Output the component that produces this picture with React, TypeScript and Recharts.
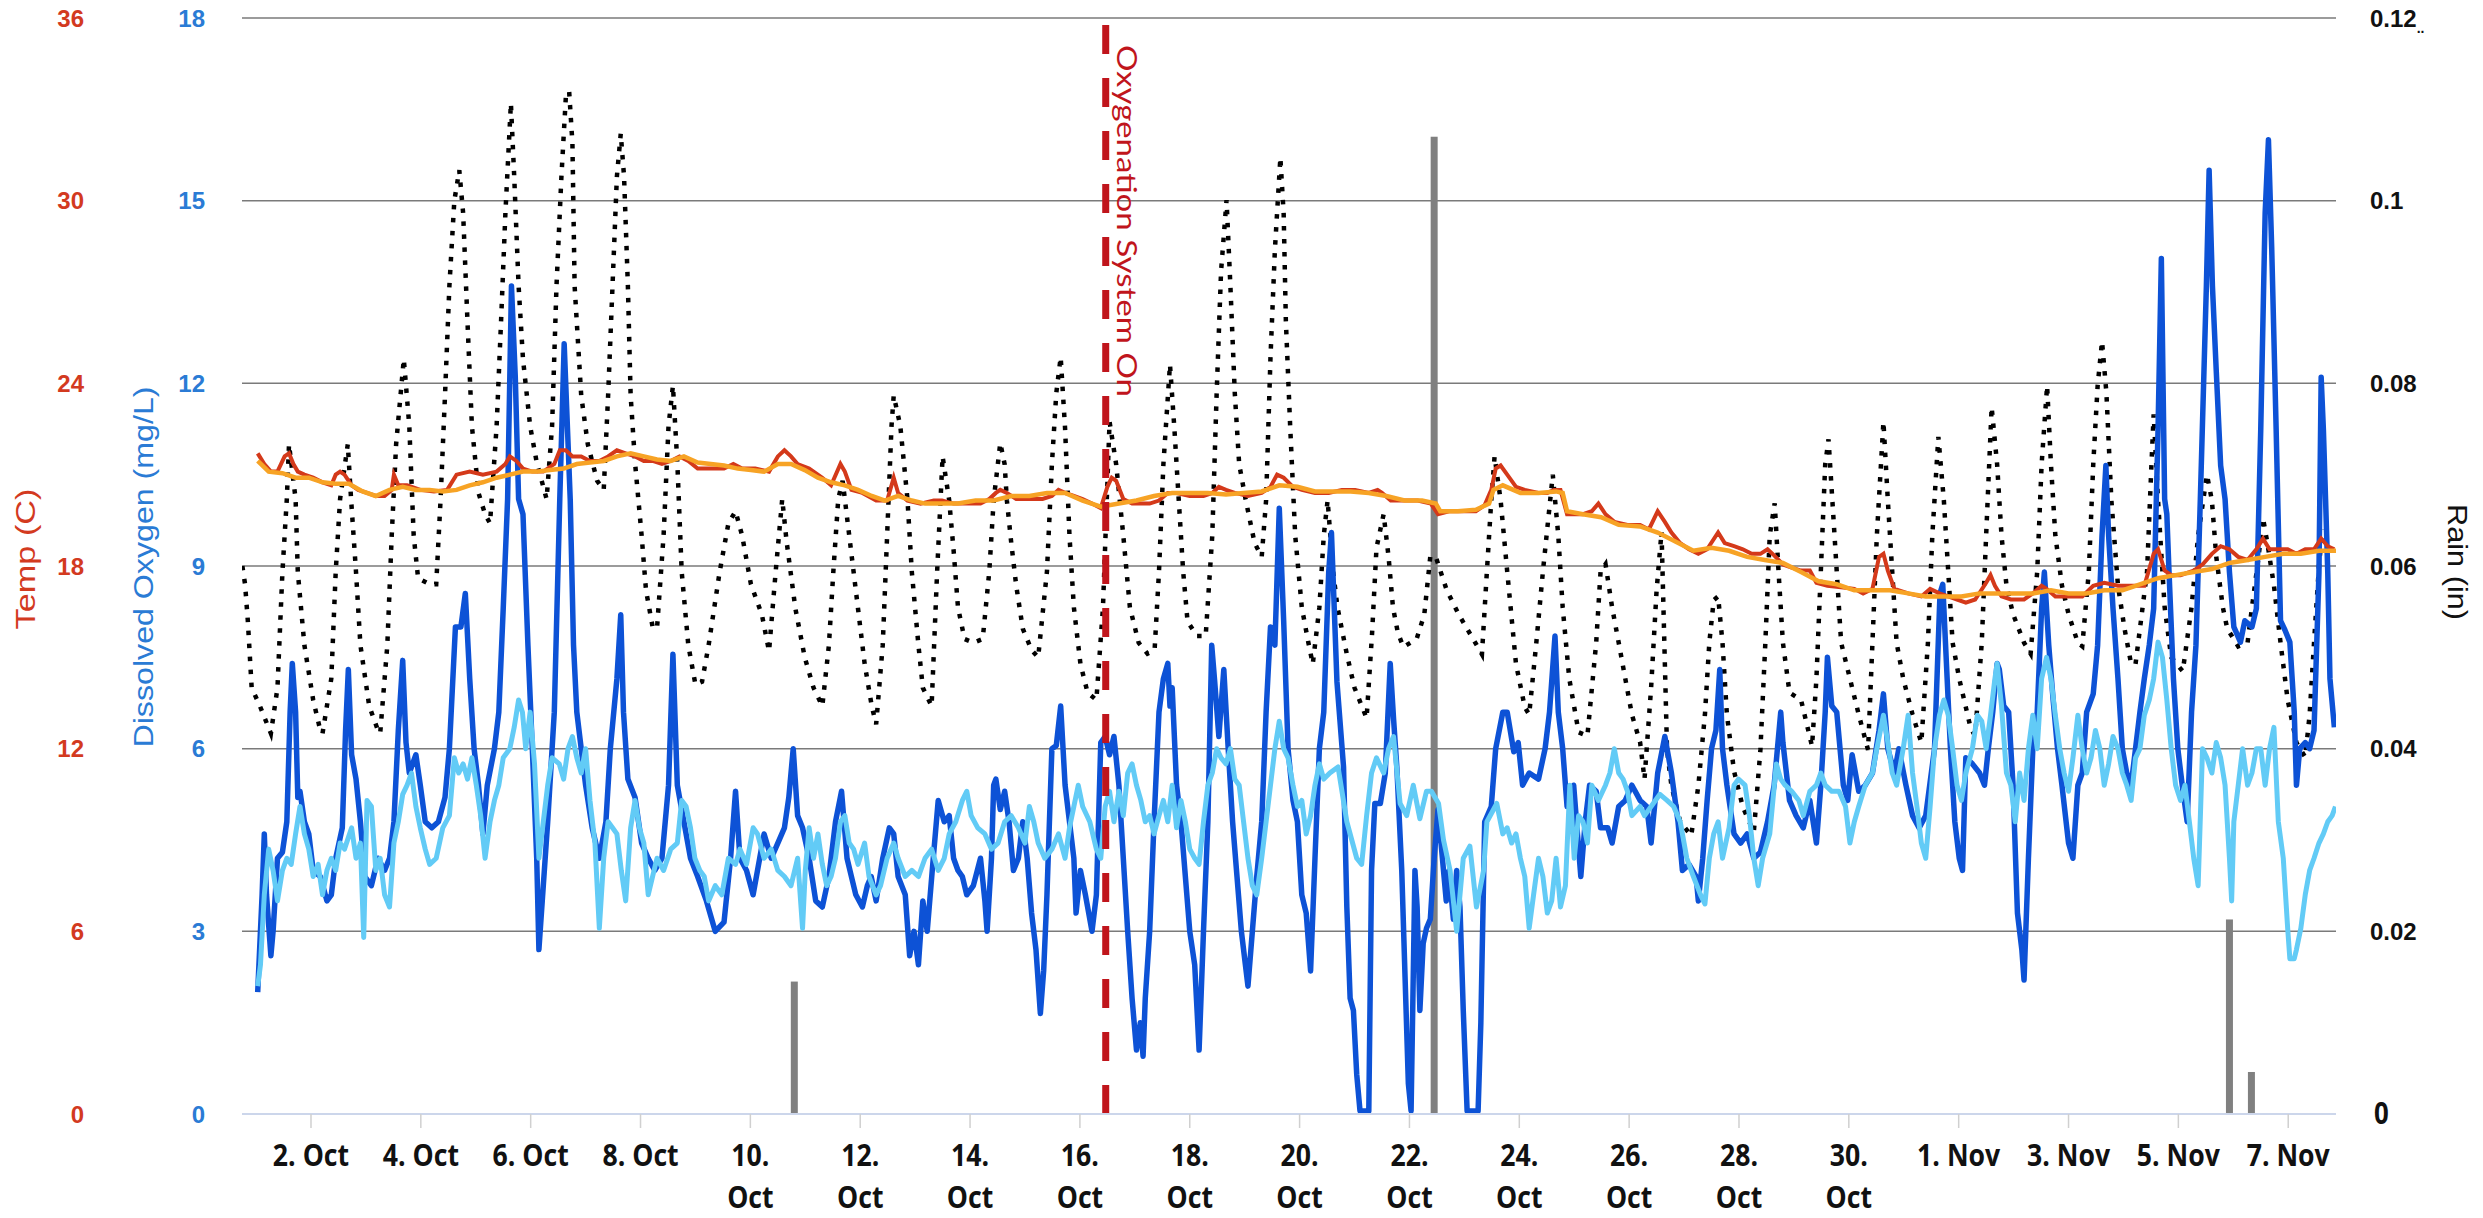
import React from "react";
import {
  Bar,
  CartesianGrid,
  ComposedChart,
  Line,
  ReferenceLine,
  XAxis,
  YAxis,
} from "recharts";

// time axis: day number counted from 1 Oct 00:00 = 1.0 (so 1 Nov = 32)
const xTicks = [2, 4, 6, 8, 10, 12, 14, 16, 18, 20, 22, 24, 26, 28, 30, 32, 34, 36, 38];
const xTickLabels = [
  "2. Oct", "4. Oct", "6. Oct", "8. Oct",
  "10.\nOct", "12.\nOct", "14.\nOct", "16.\nOct", "18.\nOct", "20.\nOct",
  "22.\nOct", "24.\nOct", "26.\nOct", "28.\nOct", "30.\nOct",
  "1. Nov", "3. Nov", "5. Nov", "7. Nov",
];
const doTicks = [0, 3, 6, 9, 12, 15, 18];
const tempTicks = [0, 6, 12, 18, 24, 30, 36];
const rainTicks = [0, 0.02, 0.04, 0.06, 0.08, 0.1, 0.12];
const rainTickLabels = ["0", "0.02", "0.04", "0.06", "0.08", "0.1", "0.12"];

const oxygenationStart = 16.47;

// rain (in)
const rain: [number, number][] = [
  [10.8, 0.0145], [22.45, 0.107], [36.93, 0.0213], [37.33, 0.0046],
];

// dotted black DO series (mg/L)
const doDotted: [number, number][] = [
  [0.75, 9.0], [0.8, 8.7], [0.85, 8.1], [0.92, 7.0], [1.07, 6.7], [1.27, 6.25], [1.39, 7.0], [1.48, 8.9],
  [1.56, 10.1], [1.6, 11.0], [1.72, 10.1], [1.76, 8.9], [1.88, 7.7], [2.04, 6.8], [2.17, 6.3], [2.21, 6.25],
  [2.37, 7.15], [2.45, 8.9], [2.53, 10.1], [2.67, 11.0], [2.73, 10.1], [2.82, 8.9], [2.9, 7.7], [3.06, 6.7],
  [3.22, 6.3], [3.26, 6.25], [3.39, 7.7], [3.47, 9.5], [3.55, 11.0], [3.69, 12.4], [3.79, 11.3], [3.87, 9.5],
  [3.95, 8.8], [4.16, 8.7], [4.24, 8.7], [4.28, 8.7], [4.36, 10.1], [4.44, 11.8], [4.52, 13.6], [4.61, 15.0],
  [4.7, 15.5], [4.77, 14.8], [4.85, 13.0], [4.93, 11.3], [5.05, 10.2], [5.17, 9.85], [5.26, 9.7], [5.38, 11.3],
  [5.46, 13.0], [5.54, 14.8], [5.64, 16.6], [5.7, 15.4], [5.78, 13.6], [5.86, 12.4], [5.99, 11.3], [6.11, 10.7],
  [6.29, 10.1], [6.39, 11.3], [6.47, 13.6], [6.56, 15.4], [6.64, 16.7], [6.7, 16.8], [6.76, 15.95], [6.8, 13.6],
  [6.92, 11.8], [7.04, 11.0], [7.21, 10.4], [7.33, 10.25], [7.41, 11.8], [7.49, 13.6], [7.57, 15.4], [7.64, 16.1],
  [7.7, 15.4], [7.77, 13.6], [7.82, 11.8], [7.9, 10.7], [8.02, 9.5], [8.1, 8.6], [8.22, 8.0], [8.3, 7.97],
  [8.42, 9.5], [8.51, 11.3], [8.59, 11.96], [8.67, 10.7], [8.75, 8.9], [8.87, 7.7], [9.0, 7.05], [9.12, 7.1],
  [9.24, 7.7], [9.44, 8.9], [9.6, 9.7], [9.73, 9.9], [9.85, 9.5], [10.01, 8.7], [10.21, 8.2], [10.34, 7.6],
  [10.46, 8.9], [10.58, 10.1], [10.66, 9.4], [10.82, 8.3], [10.99, 7.5], [11.15, 7.0], [11.31, 6.7], [11.43, 7.7],
  [11.51, 8.9], [11.6, 10.1], [11.68, 10.4], [11.8, 9.5], [11.96, 8.3], [12.08, 7.4], [12.21, 6.7], [12.29, 6.4],
  [12.41, 7.7], [12.49, 9.5], [12.57, 11.3], [12.61, 11.8], [12.73, 11.3], [12.86, 10.1], [12.94, 8.9], [13.06, 7.7],
  [13.14, 7.0], [13.3, 6.7], [13.4, 8.9], [13.5, 10.8], [13.62, 10.08], [13.7, 9.26], [13.78, 8.32], [13.9, 7.8],
  [14.06, 7.74], [14.23, 7.8], [14.35, 8.91], [14.43, 10.08], [14.55, 11.02], [14.63, 10.67], [14.67, 10.08], [14.75, 9.38],
  [14.84, 8.68], [14.96, 7.97], [15.12, 7.62], [15.24, 7.5], [15.4, 8.91], [15.49, 10.67], [15.57, 11.84], [15.65, 12.43],
  [15.73, 11.26], [15.81, 9.5], [15.89, 8.32], [16.01, 7.39], [16.14, 6.92], [16.3, 6.8], [16.42, 8.32], [16.54, 11.37],
  [16.66, 10.67], [16.79, 9.5], [16.91, 8.32], [17.07, 7.74], [17.23, 7.56], [17.36, 7.62], [17.44, 8.91], [17.52, 10.67],
  [17.64, 12.31], [17.72, 11.26], [17.8, 10.08], [17.88, 8.91], [17.96, 8.09], [18.13, 7.85], [18.29, 7.85], [18.41, 9.5],
  [18.49, 11.84], [18.57, 13.84], [18.67, 15.01], [18.74, 13.6], [18.82, 11.84], [18.9, 10.67], [19.02, 10.08], [19.18, 9.38],
  [19.31, 9.15], [19.39, 10.08], [19.47, 12.43], [19.55, 14.19], [19.65, 15.71], [19.71, 14.78], [19.75, 13.02], [19.83, 11.26],
  [19.92, 9.5], [20.04, 8.32], [20.16, 7.74], [20.24, 7.39], [20.36, 8.32], [20.44, 9.5], [20.51, 10.08], [20.61, 8.91],
  [20.69, 8.32], [20.86, 7.55], [21.0, 7.0], [21.22, 6.5], [21.32, 7.9], [21.4, 9.3], [21.53, 9.85], [21.62, 9.15],
  [21.7, 8.32], [21.79, 7.9], [21.89, 7.67], [22.13, 7.8], [22.27, 8.2], [22.38, 9.16], [22.48, 9.15], [22.68, 8.6],
  [22.9, 8.2], [23.16, 7.8], [23.32, 7.55], [23.41, 8.91], [23.49, 10.08], [23.55, 10.8], [23.66, 10.08],
  [23.78, 8.91], [23.94, 7.39], [24.1, 6.68], [24.18, 6.56], [24.31, 7.74], [24.43, 8.91], [24.61, 10.5], [24.71, 9.5],
  [24.79, 8.32], [24.91, 7.15], [25.08, 6.27], [25.24, 6.21], [25.4, 7.74], [25.48, 8.91], [25.57, 9.03], [25.69, 8.32],
  [25.81, 7.74], [25.93, 7.15], [26.05, 6.56], [26.2, 6.1], [26.28, 5.5], [26.4, 7.0], [26.5, 8.6], [26.59, 9.56],
  [26.69, 5.98], [26.77, 5.39], [26.93, 4.8], [27.13, 4.57], [27.26, 5.39], [27.38, 6.56], [27.46, 7.74], [27.54, 8.44],
  [27.62, 8.5], [27.7, 7.74], [27.78, 6.56], [27.91, 5.63], [28.07, 5.04], [28.27, 4.63], [28.39, 5.98], [28.48, 7.74],
  [28.56, 9.5], [28.65, 10.03], [28.72, 8.91], [28.8, 7.74], [28.92, 6.92], [29.13, 6.8], [29.33, 6.04], [29.41, 7.15],
  [29.49, 8.91], [29.57, 10.67], [29.63, 11.08], [29.7, 10.08], [29.78, 8.91], [29.86, 7.74], [30.02, 7.15], [30.18, 6.56],
  [30.35, 5.98], [30.43, 7.74], [30.51, 9.5], [30.63, 11.37], [30.71, 10.08], [30.79, 8.91], [30.87, 7.74], [30.99, 7.15],
  [31.16, 6.56], [31.32, 6.1], [31.44, 7.74], [31.52, 9.5], [31.63, 11.12], [31.73, 10.08], [31.81, 8.91], [31.89, 7.74],
  [32.01, 7.15], [32.22, 6.33], [32.3, 6.21], [32.42, 7.74], [32.5, 9.5], [32.6, 11.61], [32.7, 10.67], [32.78, 9.5],
  [32.87, 8.68], [32.99, 8.21], [33.19, 7.74], [33.31, 7.56], [33.43, 8.91], [33.51, 10.67], [33.61, 11.96], [33.68, 10.67],
  [33.76, 9.5], [33.88, 8.68], [34.0, 8.21], [34.17, 7.74], [34.25, 7.68], [34.37, 8.91], [34.45, 10.67], [34.53, 11.96],
  [34.61, 12.69], [34.69, 11.84], [34.78, 10.08], [34.9, 8.68], [35.02, 7.97], [35.14, 7.39], [35.22, 7.39], [35.43, 8.91],
  [35.51, 10.67], [35.55, 11.49], [35.63, 10.08], [35.75, 8.32], [35.87, 7.5], [36.08, 7.27], [36.24, 8.32], [36.36, 9.5],
  [36.52, 10.5], [36.61, 10.08], [36.69, 9.15], [36.81, 8.32], [36.89, 7.97], [37.09, 7.68], [37.26, 7.74], [37.34, 8.32],
  [37.46, 9.15], [37.54, 9.79], [37.62, 9.38], [37.74, 8.68], [37.86, 7.74], [37.99, 6.8], [38.15, 6.1], [38.31, 5.86],
  [38.39, 6.56], [38.47, 7.74], [38.56, 9.0], [38.62, 9.6],
];

// dark blue DO series (mg/L)
const doDeep: [number, number][] = [
  [1.03, 2.0], [1.11, 3.6], [1.15, 4.6], [1.19, 3.6], [1.27, 2.6], [1.31, 3.0], [1.39, 4.2], [1.48, 4.3],
  [1.56, 4.8], [1.62, 6.6], [1.66, 7.4], [1.72, 6.6], [1.76, 5.2], [1.8, 5.3], [1.88, 4.8], [1.96, 4.6],
  [2.04, 4.0], [2.17, 3.9], [2.29, 3.5], [2.37, 3.6], [2.45, 4.2], [2.57, 4.7], [2.63, 6.3], [2.68, 7.3],
  [2.74, 5.9], [2.82, 5.5], [2.9, 4.8], [2.98, 3.9], [3.1, 3.75], [3.22, 4.2], [3.34, 4.0], [3.43, 4.2],
  [3.51, 4.8], [3.59, 6.3], [3.67, 7.45], [3.73, 6.1], [3.79, 5.6], [3.91, 5.9], [3.99, 5.4], [4.08, 4.8],
  [4.2, 4.7], [4.32, 4.8], [4.44, 5.2], [4.52, 6.0], [4.63, 8.0], [4.73, 8.0], [4.81, 8.55], [4.89, 7.15],
  [4.97, 6.0], [5.05, 5.4], [5.13, 4.6], [5.21, 5.4], [5.34, 6.0], [5.42, 6.6], [5.5, 8.3], [5.58, 10.1],
  [5.65, 13.6], [5.72, 12.1], [5.78, 10.1], [5.86, 9.85], [5.95, 7.7], [6.03, 6.0], [6.11, 4.2], [6.15, 2.7],
  [6.23, 3.75], [6.31, 4.8], [6.43, 6.6], [6.53, 10.1], [6.61, 12.65], [6.72, 10.1], [6.78, 7.7], [6.84, 6.6],
  [6.92, 6.0], [7.0, 5.4], [7.12, 4.7], [7.25, 4.2], [7.37, 4.8], [7.45, 6.0], [7.57, 7.15], [7.64, 8.2],
  [7.69, 6.6], [7.77, 5.5], [7.9, 5.2], [8.02, 4.45], [8.14, 4.2], [8.26, 4.0], [8.39, 4.2], [8.51, 5.4],
  [8.59, 7.55], [8.67, 5.4], [8.79, 4.8], [8.91, 4.2], [9.04, 3.9], [9.2, 3.5], [9.36, 3.0], [9.52, 3.15],
  [9.64, 4.2], [9.73, 5.3], [9.81, 4.2], [9.93, 4.0], [10.05, 3.6], [10.17, 4.2], [10.25, 4.6], [10.38, 4.2],
  [10.5, 4.45], [10.62, 4.7], [10.7, 5.2], [10.78, 6.0], [10.86, 4.9], [10.95, 4.7], [11.07, 4.2], [11.19, 3.5],
  [11.31, 3.4], [11.43, 3.9], [11.55, 4.8], [11.66, 5.3], [11.76, 4.2], [11.84, 3.9], [11.92, 3.6], [12.04, 3.4],
  [12.13, 3.75], [12.2, 3.9], [12.29, 3.5], [12.41, 4.2], [12.53, 4.7], [12.61, 4.6], [12.69, 3.9], [12.82, 3.6],
  [12.9, 2.6], [12.98, 3.0], [13.06, 2.45], [13.14, 3.5], [13.22, 3.0], [13.33, 4.2], [13.42, 5.15], [13.53, 4.8],
  [13.62, 4.9], [13.7, 4.2], [13.78, 4.0], [13.86, 3.9], [13.94, 3.6], [14.06, 3.75], [14.19, 4.2], [14.27, 3.5],
  [14.31, 3.0], [14.39, 4.2], [14.43, 5.4], [14.47, 5.5], [14.55, 5.0], [14.63, 5.3], [14.71, 4.8], [14.79, 4.0],
  [14.88, 4.2], [14.96, 4.8], [15.04, 4.2], [15.12, 3.3], [15.2, 2.7], [15.28, 1.65], [15.34, 2.35], [15.4, 3.6],
  [15.49, 6.0], [15.57, 6.05], [15.65, 6.7], [15.73, 5.4], [15.81, 4.8], [15.89, 4.2], [15.93, 3.3], [16.01, 4.0],
  [16.1, 3.6], [16.22, 3.0], [16.3, 3.6], [16.38, 6.1], [16.46, 6.2], [16.54, 5.9], [16.62, 6.2], [16.71, 5.4],
  [16.79, 4.2], [16.87, 3.0], [16.95, 1.9], [17.03, 1.05], [17.1, 1.5], [17.15, 0.95], [17.19, 1.9], [17.27, 3.0],
  [17.35, 4.8], [17.44, 6.6], [17.52, 7.15], [17.6, 7.4], [17.64, 6.7], [17.68, 7.0], [17.76, 5.4], [17.84, 4.8],
  [17.92, 3.9], [18.0, 3.0], [18.09, 2.45], [18.17, 1.05], [18.25, 3.0], [18.33, 4.8], [18.4, 7.7], [18.45, 7.15],
  [18.53, 6.2], [18.62, 7.3], [18.7, 6.0], [18.78, 4.8], [18.86, 3.9], [18.94, 3.0], [19.06, 2.1], [19.14, 3.0],
  [19.22, 3.9], [19.31, 4.8], [19.39, 6.6], [19.47, 8.0], [19.55, 7.7], [19.63, 9.95], [19.71, 8.1], [19.79, 6.0],
  [19.88, 5.15], [19.96, 4.8], [20.04, 3.6], [20.12, 3.3], [20.2, 2.35], [20.28, 4.2], [20.36, 6.0], [20.44, 6.6],
  [20.53, 8.9], [20.58, 9.55], [20.68, 7.1], [20.8, 5.7], [20.86, 3.4], [20.92, 1.9], [20.98, 1.7], [21.04, 0.65],
  [21.1, 0.05], [21.26, 0.05], [21.31, 4.0], [21.37, 5.1], [21.47, 5.1], [21.56, 5.6], [21.65, 7.4], [21.71, 6.5],
  [21.77, 5.7], [21.86, 4.0], [21.92, 2.25], [21.98, 0.5], [22.03, 0.05], [22.1, 4.0], [22.14, 3.4], [22.19, 1.7],
  [22.25, 2.8], [22.31, 3.05], [22.38, 3.2], [22.45, 4.2], [22.52, 5.0], [22.6, 4.2], [22.67, 3.5], [22.72, 4.0],
  [22.8, 3.2], [22.86, 4.0], [22.92, 3.4], [22.98, 1.7], [23.05, 0.05], [23.25, 0.05], [23.3, 1.5], [23.37, 4.8],
  [23.49, 5.05], [23.57, 6.0], [23.7, 6.6], [23.78, 6.6],
  [23.9, 5.95], [23.98, 6.1], [24.06, 5.4], [24.18, 5.6], [24.35, 5.5], [24.47, 6.0], [24.55, 6.6], [24.65, 7.85],
  [24.71, 6.6], [24.79, 6.0], [24.87, 5.05], [24.99, 5.4], [25.12, 3.9], [25.2, 4.8], [25.28, 5.4], [25.4, 5.3],
  [25.48, 4.7], [25.61, 4.7], [25.69, 4.45], [25.81, 5.05], [25.93, 5.15], [26.05, 5.4], [26.2, 5.15], [26.32, 5.05],
  [26.4, 4.45], [26.52, 5.6], [26.65, 6.2], [26.77, 5.6], [26.89, 4.8], [26.97, 4.0], [27.09, 4.1], [27.22, 3.9],
  [27.26, 3.5], [27.34, 4.2], [27.42, 5.15], [27.5, 6.0], [27.58, 6.3], [27.65, 7.3], [27.7, 6.0], [27.78, 5.4],
  [27.91, 4.6], [28.03, 4.45], [28.15, 4.6], [28.27, 4.2], [28.39, 4.3], [28.52, 4.8], [28.64, 5.4], [28.76, 6.6],
  [28.8, 6.1], [28.92, 5.15], [29.04, 4.9], [29.17, 4.7], [29.29, 5.15], [29.41, 4.45], [29.49, 5.4], [29.57, 6.6],
  [29.61, 7.5], [29.69, 6.7], [29.78, 6.6], [29.9, 5.4], [29.98, 5.15], [30.06, 5.9], [30.18, 5.3], [30.3, 5.4],
  [30.43, 5.6], [30.55, 6.3], [30.63, 6.9], [30.71, 6.0], [30.83, 5.6], [30.91, 6.0], [31.04, 5.4], [31.16, 4.9],
  [31.28, 4.7], [31.4, 4.9], [31.56, 6.0], [31.66, 8.55], [31.71, 8.7], [31.79, 7.15], [31.85, 6.0], [31.93, 4.8],
  [32.01, 4.2], [32.07, 4.0], [32.13, 5.85], [32.25, 5.75], [32.38, 5.6], [32.47, 5.4], [32.54, 6.0], [32.62, 6.6],
  [32.7, 7.4], [32.74, 7.3], [32.82, 6.7], [32.91, 6.6], [32.99, 5.4], [33.07, 3.3], [33.15, 2.7], [33.19, 2.2],
  [33.27, 4.2], [33.35, 6.0], [33.43, 6.6], [33.51, 8.3], [33.56, 8.9], [33.64, 7.7], [33.72, 6.8], [33.8, 6.0],
  [33.88, 5.4], [34.0, 4.45], [34.08, 4.2], [34.17, 5.4], [34.25, 5.6], [34.33, 6.6], [34.45, 6.9], [34.53, 7.7],
  [34.61, 9.5], [34.68, 10.65], [34.73, 9.5], [34.81, 8.3], [34.9, 7.15], [34.98, 6.0], [35.06, 5.6], [35.14, 5.4],
  [35.22, 6.0], [35.3, 6.6], [35.38, 7.15], [35.47, 7.7], [35.55, 8.3], [35.63, 11.25], [35.69, 14.05], [35.75, 10.1],
  [35.79, 9.85], [35.83, 8.9], [35.91, 7.15], [35.99, 6.0], [36.07, 5.4], [36.16, 4.8], [36.24, 6.6], [36.32, 7.7],
  [36.4, 10.1], [36.51, 13.6], [36.56, 15.5], [36.62, 13.6], [36.69, 12.2], [36.77, 10.65], [36.85, 10.1], [36.93, 8.9],
  [37.01, 8.0], [37.13, 7.75], [37.21, 8.1], [37.34, 8.0], [37.42, 8.3], [37.5, 11.25], [37.58, 14.8], [37.64, 16.0],
  [37.7, 14.2], [37.78, 11.25], [37.86, 8.1], [37.94, 7.95], [38.03, 7.75], [38.11, 6.6], [38.15, 5.4], [38.21, 6.0],
  [38.31, 6.1], [38.39, 6.0], [38.47, 6.3], [38.56, 8.9], [38.6, 12.1], [38.64, 11.25], [38.68, 10.1], [38.72, 8.9],
  [38.76, 7.15], [38.84, 6.35],
];

// light blue DO series (mg/L)
const doMid: [number, number][] = [
  [1.03, 2.1], [1.08, 2.45], [1.15, 3.6], [1.23, 4.35], [1.31, 4.0], [1.39, 3.5], [1.48, 4.0], [1.56, 4.2],
  [1.64, 4.1], [1.72, 4.6], [1.8, 5.05], [1.88, 4.6], [1.96, 4.35], [2.04, 3.9], [2.13, 4.1], [2.21, 3.6],
  [2.29, 4.0], [2.37, 4.2], [2.45, 4.0], [2.53, 4.45], [2.61, 4.35], [2.74, 4.7], [2.82, 4.2], [2.9, 4.45],
  [2.96, 2.9], [3.02, 5.15], [3.1, 5.05], [3.18, 4.0], [3.26, 4.2], [3.34, 3.6], [3.43, 3.4], [3.51, 4.45],
  [3.59, 4.8], [3.67, 5.25], [3.75, 5.4], [3.83, 5.6], [3.91, 5.05], [3.99, 4.7], [4.08, 4.35], [4.16, 4.1],
  [4.28, 4.2], [4.4, 4.7], [4.52, 4.9], [4.61, 5.85], [4.69, 5.6], [4.77, 5.75], [4.85, 5.5], [4.93, 5.85],
  [5.01, 5.4], [5.09, 4.9], [5.17, 4.2], [5.26, 4.8], [5.34, 5.15], [5.42, 5.4], [5.5, 5.85], [5.62, 6.0],
  [5.7, 6.35], [5.78, 6.8], [5.85, 6.6], [5.91, 6.0], [5.99, 6.6], [6.07, 5.75], [6.15, 4.2], [6.23, 4.8],
  [6.31, 5.4], [6.39, 5.85], [6.52, 5.75], [6.6, 5.5], [6.68, 6.0], [6.76, 6.2], [6.84, 5.85], [6.92, 5.6],
  [7.0, 6.0], [7.08, 5.15], [7.17, 4.45], [7.25, 3.05], [7.33, 4.2], [7.41, 4.8], [7.49, 4.7], [7.57, 4.6],
  [7.65, 4.0], [7.73, 3.5], [7.82, 4.7], [7.9, 5.15], [7.98, 4.7], [8.06, 4.45], [8.14, 3.6], [8.22, 3.9],
  [8.3, 4.2], [8.42, 4.0], [8.55, 4.35], [8.67, 4.45], [8.75, 5.15], [8.83, 5.05], [8.91, 4.7], [8.99, 4.2],
  [9.08, 4.0], [9.16, 3.9], [9.24, 3.5], [9.36, 3.75], [9.48, 3.6], [9.6, 4.2], [9.73, 4.1], [9.81, 4.35],
  [9.93, 4.1], [10.05, 4.7], [10.13, 4.6], [10.25, 4.2], [10.38, 4.35], [10.5, 4.0], [10.62, 3.9], [10.74, 3.75],
  [10.86, 4.2], [10.95, 3.05], [11.0, 4.0], [11.07, 4.7], [11.15, 4.2], [11.23, 4.6], [11.31, 4.1], [11.39, 3.75],
  [11.47, 3.9], [11.55, 4.2], [11.64, 4.8], [11.72, 4.9], [11.8, 4.45], [11.88, 4.35], [11.96, 4.1], [12.08, 4.45],
  [12.16, 3.9], [12.29, 3.6], [12.37, 3.75], [12.49, 4.2], [12.61, 4.45], [12.69, 4.2], [12.82, 3.9], [12.94, 4.0],
  [13.06, 3.9], [13.18, 4.2], [13.3, 4.35], [13.42, 4.0], [13.53, 4.2], [13.62, 4.6], [13.74, 4.8], [13.86, 5.15],
  [13.94, 5.3], [14.02, 4.9], [14.14, 4.7], [14.27, 4.6], [14.39, 4.35], [14.51, 4.45], [14.63, 4.8], [14.75, 4.9],
  [14.88, 4.7], [15.0, 4.45], [15.08, 5.05], [15.16, 4.8], [15.24, 4.45], [15.36, 4.2], [15.49, 4.35], [15.61, 4.6],
  [15.73, 4.2], [15.81, 4.7], [15.89, 5.05], [15.97, 5.4], [16.05, 5.05], [16.18, 4.8], [16.3, 4.35], [16.38, 4.2],
  [16.46, 5.05], [16.54, 5.3], [16.62, 4.8], [16.71, 5.3], [16.79, 4.9], [16.87, 5.6], [16.95, 5.75], [17.03, 5.4],
  [17.11, 5.15], [17.19, 4.8], [17.27, 4.9], [17.35, 4.6], [17.44, 4.9], [17.52, 5.15], [17.6, 4.8], [17.68, 5.4],
  [17.76, 4.7], [17.84, 5.15], [17.92, 4.8], [18.0, 4.35], [18.09, 4.2], [18.17, 4.1], [18.25, 4.8], [18.33, 5.4],
  [18.41, 5.6], [18.49, 6.0], [18.57, 5.85], [18.66, 5.75], [18.74, 6.0], [18.82, 5.5], [18.9, 5.4], [18.98, 4.8],
  [19.06, 4.2], [19.14, 3.75], [19.22, 3.6], [19.31, 4.2], [19.39, 4.8], [19.47, 5.4], [19.55, 6.0], [19.63, 6.45],
  [19.71, 6.0], [19.79, 5.85], [19.88, 5.4], [19.96, 5.05], [20.04, 5.15], [20.12, 4.6], [20.2, 4.9], [20.28, 5.4],
  [20.36, 5.75], [20.44, 5.5], [20.55, 5.6], [20.7, 5.7], [20.86, 4.8], [21.04, 4.2], [21.13, 4.1], [21.22, 4.9],
  [21.31, 5.6], [21.4, 5.85], [21.53, 5.6], [21.62, 6.0], [21.71, 6.2], [21.83, 5.1], [21.95, 4.9], [22.07, 5.4],
  [22.19, 4.85], [22.31, 5.3], [22.4, 5.3], [22.53, 5.1], [22.62, 4.5], [22.74, 4.0], [22.86, 3.0], [22.98, 4.2],
  [23.1, 4.4], [23.22, 3.4], [23.35, 4.0], [23.41, 4.8], [23.59, 5.1],
  [23.7, 4.6], [23.78, 4.7], [23.86, 4.45], [23.94, 4.6], [24.02, 4.2], [24.1, 3.9], [24.18, 3.05], [24.26, 3.6],
  [24.35, 4.2], [24.43, 3.9], [24.51, 3.3], [24.59, 3.5], [24.67, 4.2], [24.75, 3.4], [24.84, 3.75], [24.92, 5.4],
  [25.0, 4.2], [25.08, 4.9], [25.16, 4.8], [25.24, 4.45], [25.32, 5.4], [25.44, 5.15], [25.57, 5.4], [25.65, 5.6],
  [25.73, 6.0], [25.81, 5.6], [25.89, 5.5], [25.97, 5.3], [26.05, 4.9], [26.2, 5.05], [26.28, 4.9], [26.4, 5.05],
  [26.56, 5.25], [26.69, 5.15], [26.81, 5.05], [26.93, 4.8], [27.05, 4.2], [27.17, 3.9], [27.3, 3.6], [27.38, 3.45],
  [27.46, 4.2], [27.54, 4.6], [27.62, 4.8], [27.7, 4.2], [27.82, 4.7], [27.91, 5.4], [27.99, 5.5], [28.11, 5.4],
  [28.19, 4.9], [28.27, 4.2], [28.35, 3.75], [28.43, 4.2], [28.56, 4.6], [28.68, 5.75], [28.76, 5.5], [28.84, 5.4],
  [28.96, 5.3], [29.09, 5.15], [29.17, 4.9], [29.29, 5.3], [29.41, 5.4], [29.49, 5.6], [29.57, 5.4], [29.69, 5.3],
  [29.82, 5.3], [29.94, 5.05], [30.02, 4.45], [30.1, 4.8], [30.18, 5.05], [30.3, 5.4], [30.43, 5.6], [30.51, 6.0],
  [30.63, 6.55], [30.71, 6.1], [30.79, 5.6], [30.87, 5.4], [30.99, 6.0], [31.08, 6.55], [31.16, 5.6], [31.24, 5.05],
  [31.32, 4.45], [31.4, 4.2], [31.48, 5.05], [31.56, 6.0], [31.65, 6.55], [31.73, 6.8], [31.81, 6.55], [31.89, 6.0],
  [31.97, 5.4], [32.05, 5.15], [32.13, 5.6], [32.25, 6.0], [32.34, 6.55], [32.42, 6.45], [32.5, 6.0], [32.58, 6.55],
  [32.66, 7.15], [32.7, 7.4], [32.78, 6.7], [32.87, 5.6], [32.95, 5.4], [33.03, 4.8], [33.11, 5.6], [33.19, 5.15],
  [33.27, 6.0], [33.35, 6.55], [33.43, 6.0], [33.51, 7.15], [33.6, 7.5], [33.68, 7.15], [33.76, 6.55], [33.84, 6.0],
  [33.92, 5.6], [34.0, 5.3], [34.08, 5.85], [34.17, 6.55], [34.25, 6.0], [34.33, 5.6], [34.41, 5.85], [34.49, 6.3],
  [34.57, 6.0], [34.65, 5.4], [34.73, 5.75], [34.81, 6.2], [34.9, 6.0], [34.98, 5.6], [35.06, 5.4], [35.14, 5.15],
  [35.22, 5.85], [35.3, 6.0], [35.38, 6.55], [35.47, 6.8], [35.55, 7.15], [35.63, 7.75], [35.71, 7.5], [35.79, 6.8],
  [35.87, 6.0], [35.95, 5.4], [36.04, 5.15], [36.12, 5.4], [36.2, 4.8], [36.28, 4.2], [36.36, 3.75], [36.44, 6.0],
  [36.52, 5.85], [36.61, 5.6], [36.69, 6.1], [36.77, 5.85], [36.85, 5.4], [36.93, 4.2], [36.97, 3.5], [37.01, 4.8],
  [37.09, 5.4], [37.17, 6.0], [37.26, 5.4], [37.34, 5.6], [37.42, 6.0], [37.5, 6.0], [37.58, 5.4], [37.66, 6.0],
  [37.74, 6.35], [37.82, 4.8], [37.91, 4.2], [37.99, 3.05], [38.03, 2.55], [38.11, 2.55], [38.15, 2.7], [38.23, 3.05],
  [38.31, 3.6], [38.39, 4.0], [38.47, 4.2], [38.56, 4.45], [38.64, 4.6], [38.72, 4.8], [38.8, 4.9], [38.86, 5.05],
];

// red temperature series (C)
const tempRed: [number, number][] = [
  [1.03, 21.7], [1.15, 21.35], [1.27, 21.1], [1.39, 21.1], [1.52, 21.6], [1.6, 21.7], [1.68, 21.35], [1.76, 21.1],
  [1.88, 21.0], [2.04, 20.9], [2.21, 20.75], [2.37, 20.65], [2.45, 21.0], [2.53, 21.1], [2.61, 21.0], [2.74, 20.65],
  [2.86, 20.5], [3.02, 20.4], [3.18, 20.3], [3.34, 20.3], [3.47, 20.5], [3.51, 21.0], [3.59, 20.65], [3.75, 20.65],
  [3.99, 20.5], [4.24, 20.45], [4.48, 20.5], [4.65, 21.0], [4.89, 21.1], [5.13, 21.0], [5.38, 21.1], [5.54, 21.35],
  [5.62, 21.6], [5.74, 21.45], [5.86, 21.2], [6.03, 21.1], [6.23, 21.1], [6.43, 21.35], [6.53, 21.8], [6.64, 21.8],
  [6.76, 21.6], [6.92, 21.6], [7.08, 21.45], [7.25, 21.45], [7.41, 21.6], [7.57, 21.8], [7.73, 21.7], [7.9, 21.6],
  [8.06, 21.45], [8.22, 21.45], [8.39, 21.35], [8.55, 21.45], [8.71, 21.6], [8.87, 21.45], [9.04, 21.2], [9.28, 21.2],
  [9.52, 21.2], [9.69, 21.35], [9.85, 21.2], [10.09, 21.2], [10.34, 21.1], [10.5, 21.6], [10.62, 21.8], [10.74, 21.6],
  [10.86, 21.35], [11.07, 21.2], [11.31, 20.9], [11.47, 20.65], [11.64, 21.35], [11.72, 21.1], [11.84, 20.5], [12.04, 20.4],
  [12.29, 20.15], [12.49, 20.15], [12.61, 20.9], [12.69, 20.4], [12.86, 20.15], [13.1, 20.05], [13.34, 20.15], [13.49, 20.15],
  [13.7, 20.05], [14.19, 20.05], [14.35, 20.2], [14.47, 20.4], [14.55, 20.5], [14.67, 20.4], [14.84, 20.2], [15.08, 20.2],
  [15.32, 20.2], [15.49, 20.3], [15.61, 20.5], [15.73, 20.4], [15.89, 20.3], [16.05, 20.2], [16.22, 20.05], [16.38, 19.9],
  [16.5, 20.6], [16.58, 20.9], [16.66, 20.8], [16.79, 20.2], [16.95, 20.05], [17.27, 20.05], [17.44, 20.15], [17.6, 20.4],
  [17.76, 20.4], [18.0, 20.3], [18.25, 20.3], [18.41, 20.4], [18.53, 20.6], [18.66, 20.5], [18.82, 20.4], [19.06, 20.3],
  [19.31, 20.4], [19.47, 20.6], [19.59, 21.0], [19.71, 20.9], [19.88, 20.6], [20.04, 20.5], [20.28, 20.4], [20.53, 20.4],
  [20.77, 20.5], [21.01, 20.5], [21.26, 20.4], [21.42, 20.5], [21.5, 20.4], [21.66, 20.15], [22.15, 20.15], [22.39, 20.05],
  [22.52, 19.7], [22.72, 19.8], [23.21, 19.8], [23.37, 20.0], [23.49, 20.5], [23.57, 21.2], [23.66, 21.3], [23.78, 21.0],
  [23.94, 20.6], [24.1, 20.5], [24.35, 20.4], [24.51, 20.4], [24.63, 20.5], [24.75, 20.5], [24.87, 19.7], [24.99, 19.7],
  [25.16, 19.7], [25.32, 19.8], [25.44, 20.05], [25.57, 19.7], [25.73, 19.45], [25.97, 19.35], [26.2, 19.35], [26.36, 19.2],
  [26.52, 19.8], [26.65, 19.45], [26.77, 19.1], [26.93, 18.75], [27.09, 18.55], [27.26, 18.4], [27.42, 18.55], [27.62, 19.1],
  [27.74, 18.75], [27.91, 18.65], [28.07, 18.55], [28.23, 18.4], [28.39, 18.4], [28.52, 18.55], [28.64, 18.35], [28.8, 18.05],
  [28.96, 17.95], [29.13, 17.85], [29.29, 17.85], [29.41, 17.45], [29.61, 17.35], [29.86, 17.3], [30.1, 17.25], [30.26, 17.1],
  [30.43, 17.25], [30.55, 18.3], [30.63, 18.4], [30.71, 17.85], [30.83, 17.25], [31.08, 17.1], [31.32, 17.0], [31.48, 17.25],
  [31.65, 17.1], [31.81, 17.0], [31.97, 16.9], [32.13, 16.8], [32.3, 16.9], [32.5, 17.45], [32.58, 17.7], [32.66, 17.35],
  [32.78, 17.0], [32.95, 16.9], [33.19, 16.9], [33.35, 17.1], [33.51, 17.35], [33.6, 17.25], [33.76, 17.0], [34.0, 17.0],
  [34.25, 17.0], [34.45, 17.35], [34.65, 17.45], [34.9, 17.35], [35.14, 17.35], [35.38, 17.35], [35.55, 18.4], [35.63, 18.55],
  [35.75, 17.85], [35.87, 17.7], [36.04, 17.7], [36.28, 17.85], [36.44, 18.05], [36.61, 18.4], [36.77, 18.65], [36.93, 18.55],
  [37.09, 18.3], [37.26, 18.2], [37.42, 18.55], [37.54, 18.9], [37.66, 18.55], [37.82, 18.55], [37.99, 18.55], [38.15, 18.4],
  [38.31, 18.55], [38.47, 18.55], [38.6, 18.9], [38.72, 18.65], [38.84, 18.55],
];

// orange temperature series (C)
const tempOrange: [number, number][] = [
  [1.03, 21.45], [1.23, 21.1], [1.48, 21.05], [1.72, 20.9], [1.96, 20.9], [2.21, 20.75], [2.45, 20.7], [2.69, 20.7],
  [2.94, 20.45], [3.18, 20.3], [3.43, 20.5], [3.67, 20.6], [3.91, 20.5], [4.16, 20.5], [4.4, 20.45], [4.65, 20.5],
  [4.89, 20.65], [5.13, 20.75], [5.38, 20.9], [5.62, 21.0], [5.86, 21.1], [6.11, 21.1], [6.35, 21.15], [6.6, 21.2],
  [6.84, 21.35], [7.08, 21.4], [7.33, 21.45], [7.57, 21.6], [7.82, 21.7], [8.06, 21.6], [8.3, 21.5], [8.55, 21.45],
  [8.79, 21.6], [9.04, 21.4], [9.28, 21.35], [9.52, 21.3], [9.77, 21.2], [10.01, 21.15], [10.25, 21.1], [10.5, 21.35],
  [10.74, 21.35], [10.99, 21.15], [11.23, 20.9], [11.47, 20.75], [11.72, 20.65], [11.96, 20.5], [12.21, 20.3], [12.45, 20.15],
  [12.69, 20.3], [12.94, 20.15], [13.18, 20.05], [13.49, 20.05], [13.78, 20.05], [14.1, 20.15], [14.43, 20.15], [14.75, 20.3],
  [15.08, 20.3], [15.4, 20.4], [15.73, 20.4], [16.05, 20.15], [16.38, 19.95], [16.71, 20.05], [17.03, 20.15], [17.35, 20.3],
  [17.68, 20.4], [18.0, 20.4], [18.33, 20.4], [18.66, 20.35], [18.98, 20.4], [19.31, 20.45], [19.63, 20.65], [19.96, 20.6],
  [20.28, 20.45], [20.61, 20.45], [20.93, 20.45], [21.26, 20.4], [21.58, 20.3], [21.91, 20.15], [22.23, 20.15], [22.48, 20.05],
  [22.56, 19.8], [22.88, 19.8], [23.21, 19.85], [23.45, 20.05], [23.53, 20.5], [23.7, 20.65], [24.02, 20.4], [24.35, 20.4],
  [24.67, 20.45], [24.79, 20.4], [24.87, 19.8], [25.16, 19.7], [25.49, 19.6], [25.81, 19.35], [26.2, 19.3], [26.52, 19.1],
  [26.85, 18.8], [27.17, 18.5], [27.5, 18.6], [27.82, 18.5], [28.15, 18.3], [28.47, 18.2], [28.8, 18.1], [29.13, 17.8],
  [29.45, 17.5], [29.78, 17.4], [30.1, 17.2], [30.43, 17.2], [30.75, 17.2], [31.08, 17.1], [31.4, 17.0], [31.73, 17.0],
  [32.05, 17.0], [32.38, 17.1], [32.7, 17.1], [33.03, 17.1], [33.35, 17.1], [33.68, 17.2], [34.0, 17.1], [34.33, 17.1],
  [34.65, 17.2], [34.98, 17.2], [35.3, 17.4], [35.63, 17.6], [35.95, 17.7], [36.28, 17.8], [36.61, 17.9], [36.93, 18.1],
  [37.26, 18.2], [37.58, 18.3], [37.91, 18.4], [38.23, 18.4], [38.56, 18.5], [38.88, 18.5],
];

const toRows = (pts: [number, number][]) => pts.map(([t, v]) => ({ t, v }));
const rainRows = rain.map(([t, r]) => ({ t, rain: r }));

const sans = "'Liberation Sans', Arial, sans-serif";
const RED = "#d33a1f";
const BLUE = "#2a7bd5";

function XTick(props: any) {
  const { x, y, payload } = props;
  const idx = xTicks.indexOf(Math.round(payload.value));
  const lines = (xTickLabels[idx] ?? "").split("\n");
  return (
    <g transform={`translate(${x},${y}) scale(0.86,1)`}>
      <text textAnchor="middle" fontFamily="'Open Sans', sans-serif" fontWeight={700} fontSize={31} fill="#111">
        {lines.map((l, i) => (
          <tspan key={i} x={0} y={36 + i * 42}>
            {l}
          </tspan>
        ))}
      </text>
    </g>
  );
}

function RainTick(props: any) {
  const { x, y, payload } = props;
  const idx = rainTicks.indexOf(payload.value);
  const label = rainTickLabels[idx] ?? "";
  if (label === "0") {
    return (
      <g transform={`translate(${x + 4},${y}) scale(0.86,1)`}>
        <text x={0} y={10} fontFamily="'Open Sans', sans-serif" fontWeight={700} fontSize={30} fill="#111">
          0
        </text>
      </g>
    );
  }
  return (
    <text x={x} y={y} dy="0.36em" fontFamily={sans} fontWeight={700} fontSize={24} fill="#111">
      {label}
      {label === "0.12" ? (
        <tspan fontSize={14} dy={6}>
          ..
        </tspan>
      ) : null}
    </text>
  );
}

// rain bars keep the scale-derived top and bottom, drawn at a fixed 7px width
function RainBar(props: any) {
  const { x, y, width, height } = props;
  if (!height || height <= 0) return null;
  return <rect x={x + width / 2 - 3.5} y={y} width={7} height={height} fill="#808080" />;
}

function axisTitle(text: string, dx: number, dy: number, color: string, angle: number, len: number) {
  return (props: any) => {
    const vb = props.viewBox;
    const cx = vb.x + dx;
    const cy = vb.y + vb.height / 2 + dy;
    return (
      <text
        x={cx}
        y={cy}
        transform={`rotate(${angle}, ${cx}, ${cy})`}
        textAnchor="middle"
        dominantBaseline="central"
        fontFamily={sans}
        fontSize={28}
        fill={color}
        textLength={len}
        lengthAdjust="spacingAndGlyphs"
      >
        {text}
      </text>
    );
  };
}

function OxygenationLabel(props: any) {
  const vb = props.viewBox;
  const x = vb.x + 11;
  const y = vb.y + 27;
  return (
    <text
      x={x}
      y={y}
      transform={`rotate(90, ${x}, ${y})`}
      fontFamily="Lato, 'Open Sans', sans-serif"
      fontSize={27}
      fill="#c0151c"
      textLength={352}
      lengthAdjust="spacingAndGlyphs"
    >
      Oxygenation System On
    </text>
  );
}

export default function App() {
  return (
    <div style={{ marginTop: -8, width: 2467, height: 1218, background: "#fff" }}>
      <ComposedChart width={2467} height={1218} data={rainRows} margin={{ top: 18, right: 0, bottom: 0, left: 0 }}>
        <CartesianGrid yAxisId="do" vertical={false} stroke="#7a7a7a" strokeWidth={1.5} />
        <XAxis
          dataKey="t"
          type="number"
          domain={[0.744, 38.87]}
          allowDataOverflow
          ticks={xTicks}
          interval={0}
          height={104}
          tick={<XTick />}
          axisLine={{ stroke: "#ccd6eb", strokeWidth: 2 }}
          tickLine={{ stroke: "#d0d0d0", strokeWidth: 1.5 }}
          tickSize={14}
          tickMargin={2}
        />
        <YAxis
          yAxisId="do"
          orientation="left"
          width={130}
          domain={[0, 18]}
          ticks={doTicks}
          interval={0}
          axisLine={false}
          tickLine={false}
          tickSize={0}
          tickMargin={37}
          tick={{ fill: BLUE, fontSize: 24, fontWeight: 700, fontFamily: sans }}
          label={axisTitle("Dissolved Oxygen (mg/L)", 31, 1, BLUE, -90, 361)}
        />
        <YAxis
          yAxisId="temp"
          orientation="left"
          width={104}
          domain={[0, 36]}
          ticks={tempTicks}
          interval={0}
          axisLine={false}
          tickLine={false}
          tickSize={0}
          tickMargin={28}
          tick={{ fill: RED, fontSize: 24, fontWeight: 700, fontFamily: sans }}
          label={axisTitle("Temp (C)", 17, -7, RED, -90, 141)}
        />
        <YAxis
          yAxisId="rain"
          orientation="right"
          width={139}
          domain={[0, 0.12]}
          ticks={rainTicks}
          interval={0}
          axisLine={false}
          tickLine={false}
          tickSize={0}
          tickMargin={34}
          tick={<RainTick />}
          label={axisTitle("Rain (in)", 121, -4, "#111", 90, 116)}
        />
        <Line
          yAxisId="do"
          data={toRows(doDotted)}
          dataKey="v"
          type="linear"
          stroke="#000"
          strokeWidth={4.5}
          strokeDasharray="4.5 8.5"
          dot={false}
          isAnimationActive={false}
        />
        <Line
          yAxisId="do"
          data={toRows(doDeep)}
          dataKey="v"
          type="linear"
          stroke="#0d52d6"
          strokeWidth={5.5}
          strokeLinejoin="round"
          dot={false}
          isAnimationActive={false}
        />
        <Line
          yAxisId="do"
          data={toRows(doMid)}
          dataKey="v"
          type="linear"
          stroke="#62cbf6"
          strokeWidth={5}
          strokeLinejoin="round"
          dot={false}
          isAnimationActive={false}
        />
        <Line
          yAxisId="temp"
          data={toRows(tempRed)}
          dataKey="v"
          type="linear"
          stroke="#d4391a"
          strokeWidth={4}
          dot={false}
          isAnimationActive={false}
        />
        <Line
          yAxisId="temp"
          data={toRows(tempOrange)}
          dataKey="v"
          type="linear"
          stroke="#f7a325"
          strokeWidth={4.5}
          dot={false}
          isAnimationActive={false}
        />
        <Bar yAxisId="rain" dataKey="rain" fill="#808080" shape={<RainBar />} isAnimationActive={false} />
        <ReferenceLine
          yAxisId="do"
          x={oxygenationStart}
          stroke="#c0151c"
          strokeWidth={7}
          strokeDasharray="29 24"
          label={OxygenationLabel}
        />
      </ComposedChart>
    </div>
  );
}
